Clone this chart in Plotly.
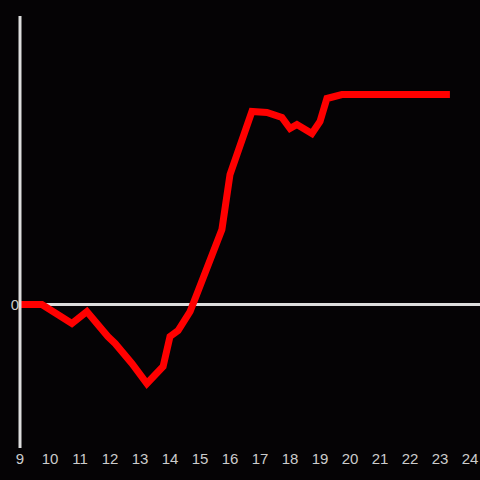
import plotly.graph_objects as go

hours = [9.0, 9.73, 10.73, 11.23, 11.93, 12.17, 12.73, 13.23, 13.77, 14.0, 14.27, 14.67, 14.93, 15.73,
         16.0, 16.73, 17.23, 17.73, 18.0, 18.23, 18.73, 19.0, 19.23, 19.73, 23.33]
values = [0, 0, -19, -7, -32, -39, -59, -79, -62, -32, -26, -7, 13, 75,
          130, 193, 192, 187, 176, 180, 171, 183, 206, 210, 210]

x_ticks = list(range(9, 25))
y_ticks = [0]

fig = go.Figure()
fig.add_trace(go.Scatter(x=hours, y=values, mode="lines",
                         line=dict(color="#ff0000", width=7), hoverinfo="skip"))

# y axis line drawn centred on the left edge of the plot area
fig.add_shape(type="line", xref="paper", yref="paper", x0=0, x1=0, y0=0, y1=1,
              line=dict(color="#dddddd", width=3), layer="above")

fig.update_layout(
    width=480, height=480,
    margin=dict(l=20, r=0, t=16, b=32),
    paper_bgcolor="#050305", plot_bgcolor="#050305",
    showlegend=False,
    font=dict(family="Liberation Sans, Arial, sans-serif", size=15, color="#cccccc"),
    xaxis=dict(range=[9, 24.333], tickvals=x_ticks, ticktext=[str(t) for t in x_ticks],
               showgrid=False, zeroline=False, showline=False, ticks="", ticklen=0),
    yaxis=dict(range=[-143.5, 288.5], tickvals=y_ticks, ticktext=["0"],
               showgrid=False, zeroline=True, zerolinecolor="#dddddd", zerolinewidth=3,
               showline=False, ticks=""),
)
fig.write_html("out.html", config={"displayModeBar": False},
               post_script="document.body.style.margin='0';document.body.style.background='#050305';")
